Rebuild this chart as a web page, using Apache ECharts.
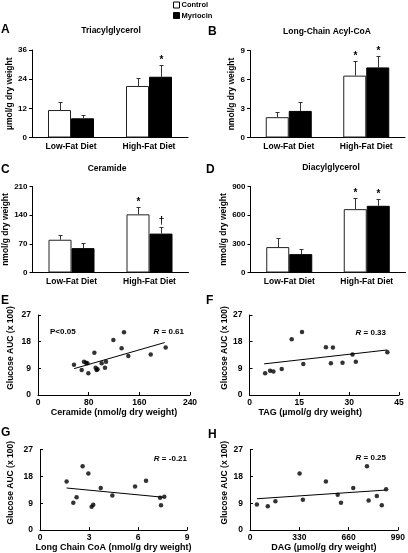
<!DOCTYPE html>
<html>
<head>
<meta charset="utf-8">
<script src="https://cdn.jsdelivr.net/npm/echarts@6/dist/echarts.min.js"></script>
<style>
html,body{margin:0;padding:0;background:#fff;}
#chart{width:408px;height:553px;}
</style>
</head>
<body>
<div id="chart"></div>
<script>
// ---------- DATA ----------
const categories = ['Low-Fat Diet', 'High-Fat Diet'];

// A: Triacylglycerol (µmol/g dry weight)
const tagCtrl = [11.3, 21.2];
const tagCtrlSE = [3.4, 3.4];
const tagMyr = [7.9, 25.0];
const tagMyrSE = [1.3, 4.8];
const tagCtrlSig = ['', ''];
const tagMyrSig = ['', '*'];

// B: Long-Chain Acyl-CoA (nmol/g dry weight)
const lcaCtrl = [2.1, 6.4];
const lcaCtrlSE = [0.5, 1.5];
const lcaMyr = [2.75, 7.25];
const lcaMyrSE = [0.9, 1.15];
const lcaCtrlSig = ['', '*'];
const lcaMyrSig = ['', '*'];

// C: Ceramide (nmol/g dry weight)
const cerCtrl = [80, 142];
const cerCtrlSE = [12, 19];
const cerMyr = [59.5, 95];
const cerMyrSE = [13.5, 15];
const cerCtrlSig = ['', '*'];
const cerMyrSig = ['', '\u2020'];

// D: Diacylglycerol (nmol/g dry weight)
const dagCtrl = [266, 663];
const dagCtrlSE = [94, 115];
const dagMyr = [192, 698];
const dagMyrSE = [53, 70];
const dagCtrlSig = ['', '*'];
const dagMyrSig = ['', '*'];

// E: Ceramide vs Glucose AUC
const eX = [56.8, 69, 72.6, 75.8, 79.5, 78, 89, 91, 92.6, 94, 100.5, 105.8, 107.4, 119, 132, 135.8, 142.6, 178, 201.6];
const eY = [10.2, 8.4, 11.2, 10.9, 7.3, 10.7, 14.3, 9.2, 8.4, 8.7, 10.7, 9.2, 11.2, 18.6, 15.8, 21.2, 13.2, 13.7, 16.0];
const eFitX = [57, 200];
const eFitY = [8.9, 17.7];

// F: TAG vs Glucose AUC
const fX = [4.7, 6.2, 7.2, 9.7, 12.7, 15.8, 16.2, 23, 25.1, 24.5, 28, 31, 32, 41.5];
const fY = [7.3, 8.2, 7.9, 8.8, 18.8, 21.3, 10.5, 16.1, 16.0, 10.7, 10.9, 13.7, 11.2, 14.4];
const fFitX = [4.4, 41.5];
const fFitY = [10.5, 15.2];

// G: Long Chain CoA vs Glucose AUC
const gX = [1.63, 2.04, 2.24, 2.61, 2.96, 3.16, 3.26, 3.72, 4.43, 5.82, 6.49, 7.35, 7.41, 7.61];
const gY = [16.3, 9.2, 11.0, 21.4, 19.0, 7.8, 8.5, 14.1, 11.6, 14.6, 16.5, 10.8, 8.3, 11.2];
const gFitX = [1.63, 7.55];
const gFitY = [14.1, 11.0];

// H: DAG vs Glucose AUC
const hX = [46, 119, 170, 332, 354, 508, 587, 609, 691, 783, 794, 849, 882, 911];
const hY = [8.6, 8.0, 9.7, 19.0, 10.2, 16.3, 11.8, 9.2, 14.1, 21.4, 9.9, 11.4, 8.3, 13.7];
const hFitX = [46, 906];
const hFitY = [10.5, 13.4];

// ---------- CHART ----------
const FONT = '"Liberation Sans", Arial, sans-serif';
const BAR_W = 23;
const chart = echarts.init(document.getElementById('chart'), null, {renderer: 'canvas'});

const grids = [
  {left: 32, top: 50, width: 156, height: 87.5},
  {left: 250, top: 50.5, width: 155, height: 87},
  {left: 32.5, top: 186.5, width: 156, height: 86},
  {left: 250.5, top: 186.5, width: 155, height: 86},
  {left: 38, top: 315, width: 152, height: 80},
  {left: 249.5, top: 315, width: 149.5, height: 80},
  {left: 40, top: 449.5, width: 147, height: 82.5},
  {left: 250, top: 449.5, width: 150, height: 82.5}
];

const axisLine = {show: true, lineStyle: {color: '#000', width: 1}};
const tickLbl = {color: '#000', fontFamily: FONT, fontWeight: 'bold', fontSize: 8};

function barX(gi) {
  return {
    type: 'category', gridIndex: gi, data: categories,
    axisLine: axisLine, axisTick: {show: false},
    axisLabel: Object.assign({margin: 5}, tickLbl, {fontSize: 8.5})
  };
}
function barY(gi, max, interval, name, gap) {
  return {
    type: 'value', gridIndex: gi, min: 0, max: max, interval: interval,
    axisLine: axisLine, axisTick: {show: true, length: 3, lineStyle: {color: '#000'}},
    axisLabel: Object.assign({margin: 5}, tickLbl),
    splitLine: {show: false},
    name: name, nameLocation: 'middle', nameGap: gap, nameRotate: 90,
    nameTextStyle: {color: '#000', fontFamily: FONT, fontWeight: 'bold', fontSize: 8.5}
  };
}
function scX(gi, max, interval, name, gap, pad) {
  return {
    type: 'value', gridIndex: gi, min: 0, max: max, interval: interval,
    axisLine: axisLine, axisTick: {show: true, inside: true, length: 3, lineStyle: {color: '#000'}},
    axisLabel: Object.assign({margin: 3}, tickLbl, {fontSize: 8.5}),
    splitLine: {show: false},
    name: name, nameLocation: 'middle', nameGap: gap,
    nameTextStyle: {color: '#000', fontFamily: FONT, fontWeight: 'bold', fontSize: 9, padding: pad || 0}
  };
}
function scY(gi, gap) {
  return {
    type: 'value', gridIndex: gi, min: 0, max: 27, interval: 9,
    axisLine: axisLine, axisTick: {show: true, inside: true, length: 3, lineStyle: {color: '#000'}},
    axisLabel: Object.assign({margin: 7}, tickLbl, {fontSize: 8.5}),
    splitLine: {show: false},
    name: 'Glucose AUC (x 100)', nameLocation: 'middle', nameGap: gap, nameRotate: 90,
    nameTextStyle: {color: '#000', fontFamily: FONT, fontWeight: 'bold', fontSize: 8.5, padding: [0, 0, 0, 14]}
  };
}

function bars(gi, ctrl, myr) {
  return [
    {type: 'bar', name: 'Control', xAxisIndex: gi, yAxisIndex: gi, data: ctrl, barWidth: BAR_W, barGap: '0%',
     itemStyle: {color: '#fff', borderColor: '#222', borderWidth: 1}, silent: true},
    {type: 'bar', name: 'Myriocin', xAxisIndex: gi, yAxisIndex: gi, data: myr, barWidth: BAR_W, barGap: '0%',
     itemStyle: {color: '#000', borderColor: '#000', borderWidth: 1}, silent: true}
  ];
}

function errSeries(gi, means, ses, sigs, sign) {
  return {
    type: 'custom', xAxisIndex: gi, yAxisIndex: gi, z: 5, silent: true,
    data: means.map((m, i) => [i, m, ses[i]]),
    renderItem: function (params, api) {
      const cat = api.value(0), mean = api.value(1), se = api.value(2);
      const base = api.coord([cat, mean]);
      const top = api.coord([cat, mean + se]);
      const x = Math.round(base[0] + sign * BAR_W / 2) + 0.5;
      const yTop = Math.round(top[1]) + 0.5;
      const children = [
        {type: 'line', shape: {x1: x, y1: base[1], x2: x, y2: yTop}, style: {stroke: '#333', lineWidth: 1}},
        {type: 'line', shape: {x1: x - 2, y1: yTop, x2: x + 2, y2: yTop}, style: {stroke: '#333', lineWidth: 1}}
      ];
      const s = sigs[params.dataIndex];
      if (s) {
        children.push({type: 'text', x: x, y: yTop - (s === '*' ? 0 : 1),
          style: {text: s, fill: '#000', font: 'bold 10px ' + FONT, align: 'center', verticalAlign: 'bottom'}});
      }
      return {type: 'group', children: children};
    }
  };
}

function pts(gi, xs, ys) {
  return {type: 'scatter', xAxisIndex: gi, yAxisIndex: gi, data: xs.map((x, i) => [x, ys[i]]),
    symbol: 'circle', symbolSize: 4.5, itemStyle: {color: '#000'}, silent: true};
}
function fit(gi, xs, ys) {
  return {type: 'line', xAxisIndex: gi, yAxisIndex: gi, data: xs.map((x, i) => [x, ys[i]]),
    symbol: 'none', lineStyle: {color: '#000', width: 1}, silent: true, z: 3};
}

function txt(x, y, text, size, align, extra) {
  return Object.assign({type: 'text', x: x, y: y, silent: true,
    style: {text: text, fill: '#000', font: 'bold ' + size + 'px ' + FONT, align: align || 'left', verticalAlign: 'middle'}}, extra || {});
}
function rtxt(xRight, y, value) {
  return {type: 'text', x: xRight, y: y, silent: true,
    style: {text: '{i|R} = ' + value, fill: '#000', font: 'bold 8px ' + FONT, align: 'right', verticalAlign: 'middle',
      rich: {i: {fontStyle: 'italic', fontWeight: 'bold', fontSize: 8, fontFamily: FONT, fill: '#000'}}}};
}

const option = {
  animation: false,
  backgroundColor: '#fff',
  legend: {
    left: 173, top: 1, orient: 'vertical', itemWidth: 6, itemHeight: 6, itemGap: 2.5, padding: 0,
    icon: 'rect',
    textStyle: {color: '#000', fontFamily: FONT, fontWeight: 'bold', fontSize: 7.5, padding: [0, 0, 0, -3]},
    data: [
      {name: 'Control', itemStyle: {color: '#fff', borderColor: '#000', borderWidth: 1}},
      {name: 'Myriocin', itemStyle: {color: '#000', borderColor: '#000', borderWidth: 1}}
    ]
  },
  grid: grids,
  xAxis: [
    barX(0), barX(1), barX(2), barX(3),
    scX(4, 240, 80, 'Ceramide (nmol/g dry weight)', 12),
    scX(5, 45, 15, 'TAG (\u00b5mol/g dry weight)', 12, [0, 28, 0, 0]),
    scX(6, 9, 3, 'Long Chain CoA (nmol/g dry weight)', 11),
    scX(7, 990, 330, 'DAG (\u00b5mol/g dry weight)', 11)
  ],
  yAxis: [
    barY(0, 36, 12, '\u00b5mol/g dry weight', 15),
    barY(1, 9, 3, 'nmol/g dry weight', 10),
    barY(2, 210, 70, 'nmol/g dry weight', 15),
    barY(3, 900, 300, 'nmol/g dry weight', 10),
    scY(4, 23), scY(5, 19), scY(6, 25), scY(7, 20)
  ],
  series: [].concat(
    bars(0, tagCtrl, tagMyr),
    [errSeries(0, tagCtrl, tagCtrlSE, tagCtrlSig, -1), errSeries(0, tagMyr, tagMyrSE, tagMyrSig, 1)],
    bars(1, lcaCtrl, lcaMyr),
    [errSeries(1, lcaCtrl, lcaCtrlSE, lcaCtrlSig, -1), errSeries(1, lcaMyr, lcaMyrSE, lcaMyrSig, 1)],
    bars(2, cerCtrl, cerMyr),
    [errSeries(2, cerCtrl, cerCtrlSE, cerCtrlSig, -1), errSeries(2, cerMyr, cerMyrSE, cerMyrSig, 1)],
    bars(3, dagCtrl, dagMyr),
    [errSeries(3, dagCtrl, dagCtrlSE, dagCtrlSig, -1), errSeries(3, dagMyr, dagMyrSE, dagMyrSig, 1)],
    [pts(4, eX, eY), fit(4, eFitX, eFitY)],
    [pts(5, fX, fY), fit(5, fFitX, fFitY)],
    [pts(6, gX, gY), fit(6, gFitX, gFitY)],
    [pts(7, hX, hY), fit(7, hFitX, hFitY)]
  ),
  graphic: [
    txt(1, 29.5, 'A', 12), txt(208, 31.5, 'B', 12), txt(1, 169.5, 'C', 12), txt(206, 169.5, 'D', 12),
    txt(1, 301, 'E', 12), txt(206, 301, 'F', 12), txt(1, 432.5, 'G', 12), txt(208, 434.5, 'H', 12),
    txt(111, 31, 'Triacylglycerol', 8.5, 'center'),
    txt(327, 32, 'Long-Chain Acyl-CoA', 8.5, 'center'),
    txt(107, 169, 'Ceramide', 8.5, 'center'),
    txt(331, 168, 'Diacylglycerol', 8.5, 'center'),
    txt(50, 332, 'P<0.05', 8, 'left'),
    rtxt(184, 332, '0.61'),
    rtxt(386, 333, '0.33'),
    rtxt(187, 459, '-0.21'),
    rtxt(386, 458, '0.25')
  ]
};
chart.setOption(option);
</script>
</body>
</html>
